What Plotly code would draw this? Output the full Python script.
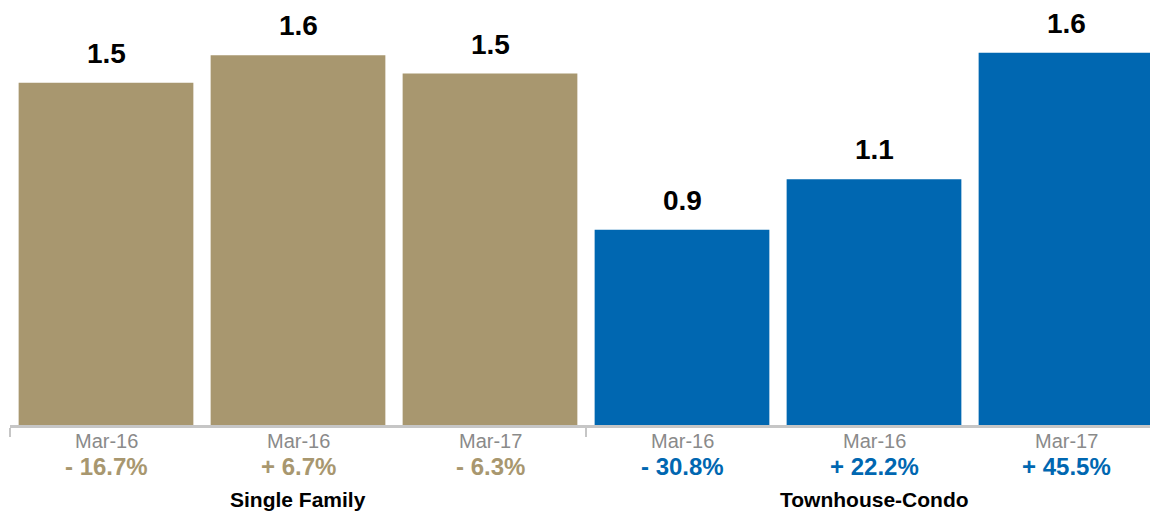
import plotly.graph_objects as go

# ---- data ----
months = ["Mar-16", "Mar-16", "Mar-17", "Mar-16", "Mar-16", "Mar-17"]
values = [1.49, 1.61, 1.53, 0.85, 1.07, 1.62]
value_labels = ["1.5", "1.6", "1.5", "0.9", "1.1", "1.6"]
pct_changes = ["- 16.7%", "+ 6.7%", "- 6.3%", "- 30.8%", "+ 22.2%", "+ 45.5%"]
groups = ["Single Family", "Townhouse-Condo"]
group_of_bar = [0, 0, 0, 1, 1, 1]

GOLD = "#A8976F"
BLUE = "#0067B1"
group_colors = [GOLD, BLUE]
FONT = "Liberation Sans, Arial, Helvetica, sans-serif"

x = list(range(len(values)))
bar_colors = [group_colors[g] for g in group_of_bar]

fig = go.Figure()
fig.add_trace(go.Bar(
    x=x, y=values, marker=dict(color=bar_colors, line=dict(width=0)),
    hoverinfo="skip", showlegend=False,
))

annotations = []
for i, v in enumerate(values):
    # value label above bar
    annotations.append(dict(
        x=i, y=v, xref="x", yref="y", text="<b>%s</b>" % value_labels[i],
        showarrow=False, yanchor="bottom", yshift=12,
        font=dict(family=FONT, size=28, color="#000000"),
    ))
    # month label
    annotations.append(dict(
        x=i, y=0, xref="x", yref="paper", text=months[i],
        showarrow=False, yanchor="middle", yshift=-16,
        font=dict(family=FONT, size=20, color="#8A8A8A"),
    ))
    # percent change
    annotations.append(dict(
        x=i, y=0, xref="x", yref="paper", text="<b>%s</b>" % pct_changes[i],
        showarrow=False, yanchor="middle", yshift=-41,
        font=dict(family=FONT, size=24, color=bar_colors[i]),
    ))

n_per_group = len(values) // len(groups)
for gi, g in enumerate(groups):
    center = gi * n_per_group + (n_per_group - 1) / 2
    annotations.append(dict(
        x=center, y=0, xref="x", yref="paper", text="<b>%s</b>" % g,
        showarrow=False, yanchor="middle", yshift=-74,
        font=dict(family=FONT, size=21, color="#000000"),
    ))

boundaries = [gi * n_per_group - 0.5 for gi in range(len(groups) + 1)]

fig.update_layout(
    width=1150, height=513,
    margin=dict(l=10, r=0, t=0, b=88),
    paper_bgcolor="white", plot_bgcolor="white",
    bargap=0.09,
    xaxis=dict(
        range=[-0.5, -0.5 + 1140 / 192], showgrid=False, zeroline=False,
        showline=True, linecolor="#C6C6C6", linewidth=3,
        tickmode="array", tickvals=boundaries, ticks="outside",
        ticklen=9, tickwidth=2, tickcolor="#C6C6C6", showticklabels=False,
        fixedrange=True,
    ),
    yaxis=dict(range=[0, 1.85], visible=False, showgrid=False, zeroline=False,
               fixedrange=True),
    annotations=annotations,
    font=dict(family=FONT),
)

fig.write_html("out.html")
